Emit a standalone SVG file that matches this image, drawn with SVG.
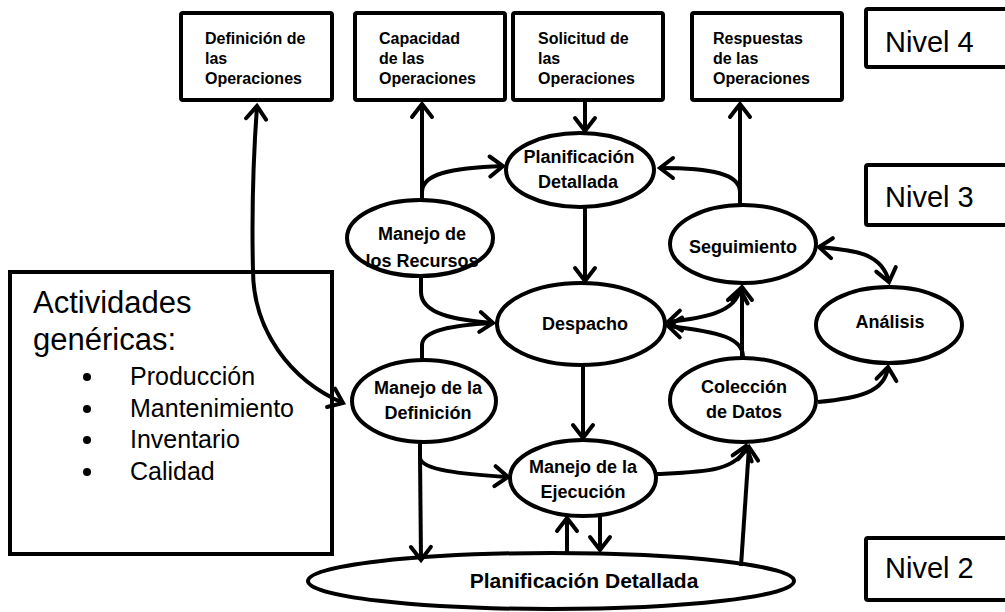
<svg xmlns="http://www.w3.org/2000/svg" width="1005" height="612" viewBox="0 0 1005 612">
  <defs>
    <marker id="arrow" viewBox="-16 -13 20 26" refX="0" refY="0" markerWidth="20" markerHeight="26" markerUnits="userSpaceOnUse" orient="auto-start-reverse">
      <path d="M -13,-10 L 0,0 L -13,10" fill="none" stroke="#000" stroke-width="4" stroke-linecap="round" stroke-linejoin="miter"/>
    </marker>
    <style>
      .box { fill: #fff; stroke: #000; stroke-width: 4; }
      .lvl { fill: #fff; stroke: #000; stroke-width: 4; }
      .node { fill: #fff; stroke: #000; stroke-width: 4; }
      .wire { fill: none; stroke: #000; stroke-width: 4; stroke-linecap: butt; }
      .head { marker-end: url(#arrow); }
      .both { marker-start: url(#arrow); marker-end: url(#arrow); }
      .t4 { font-family: "Liberation Sans", Arial, sans-serif; font-weight: bold; font-size: 16px; fill: #000; }
      .t3 { font-family: "Liberation Sans", Arial, sans-serif; font-weight: bold; font-size: 18px; fill: #000; text-anchor: middle; }
      .big { font-family: "Liberation Sans", Arial, sans-serif; font-weight: bold; font-size: 21px; fill: #000; text-anchor: middle; }
      .niv { font-family: "Liberation Sans", Arial, sans-serif; font-size: 29px; fill: #000; }
      .act { font-family: "Liberation Sans", Arial, sans-serif; font-size: 31px; fill: #000; }
      .li { font-family: "Liberation Sans", Arial, sans-serif; font-size: 25px; fill: #000; }
    </style>
  </defs>

  <!-- Level 4 boxes -->
  <g id="def-operaciones">
    <rect class="box" x="181" y="13" width="151" height="87" rx="2"/>
    <text class="t4" x="205" y="44">Definición de</text>
    <text class="t4" x="205" y="64">las</text>
    <text class="t4" x="205" y="84">Operaciones</text>
  </g>
  <g id="cap-operaciones">
    <rect class="box" x="355" y="13" width="150" height="87" rx="2"/>
    <text class="t4" x="379" y="44">Capacidad</text>
    <text class="t4" x="379" y="64">de las</text>
    <text class="t4" x="379" y="84">Operaciones</text>
  </g>
  <g id="sol-operaciones">
    <rect class="box" x="513" y="13" width="150" height="87" rx="2"/>
    <text class="t4" x="538" y="44">Solicitud de</text>
    <text class="t4" x="538" y="64">las</text>
    <text class="t4" x="538" y="84">Operaciones</text>
  </g>
  <g id="resp-operaciones">
    <rect class="box" x="692" y="13" width="150" height="87" rx="2"/>
    <text class="t4" x="713" y="44">Respuestas</text>
    <text class="t4" x="713" y="64">de las</text>
    <text class="t4" x="713" y="84">Operaciones</text>
  </g>

  <!-- Level labels -->
  <g id="nivel4">
    <rect class="lvl" x="866" y="9" width="150" height="58" rx="2"/>
    <text class="niv" x="885" y="52">Nivel 4</text>
  </g>
  <g id="nivel3">
    <rect class="lvl" x="866" y="165" width="150" height="60" rx="2"/>
    <text class="niv" x="885" y="207">Nivel 3</text>
  </g>
  <g id="nivel2">
    <rect class="lvl" x="866" y="538" width="150" height="62" rx="2"/>
    <text class="niv" x="885" y="578">Nivel 2</text>
  </g>

  <!-- Generic activities panel -->
  <g id="actividades">
    <rect x="10" y="272" width="322" height="282" fill="#fff" stroke="#000" stroke-width="4"/>
    <text class="act" x="33" y="313">Actividades</text>
    <text class="act" x="33" y="350">genéricas:</text>
    <circle cx="87" cy="377" r="4"/>
    <text class="li" x="130" y="385">Producción</text>
    <circle cx="87" cy="409" r="4"/>
    <text class="li" x="130" y="417">Mantenimiento</text>
    <circle cx="87" cy="440" r="4"/>
    <text class="li" x="130" y="448">Inventario</text>
    <circle cx="87" cy="472" r="4"/>
    <text class="li" x="130" y="480">Calidad</text>
  </g>

  <!-- Level 3 activities -->
  <g id="planificacion">
    <ellipse class="node" cx="580" cy="170" rx="74" ry="37"/>
    <text class="t3" x="579" y="163">Planificación</text>
    <text class="t3" x="578" y="188">Detallada</text>
  </g>
  <g id="recursos">
    <ellipse class="node" cx="420" cy="238" rx="73" ry="38"/>
    <text class="t3" x="422" y="240">Manejo de</text>
    <text class="t3" x="422" y="267">los Recursos</text>
  </g>
  <g id="despacho">
    <ellipse class="node" cx="581" cy="324" rx="84" ry="41"/>
    <text class="t3" x="585" y="330">Despacho</text>
  </g>
  <g id="definicion">
    <ellipse class="node" cx="424" cy="401" rx="72" ry="41"/>
    <text class="t3" x="428" y="394">Manejo de la</text>
    <text class="t3" x="428" y="419">Definición</text>
  </g>
  <g id="ejecucion">
    <ellipse class="node" cx="583" cy="478" rx="73" ry="38"/>
    <text class="t3" x="583" y="473">Manejo de la</text>
    <text class="t3" x="583" y="498">Ejecución</text>
  </g>
  <g id="seguimiento">
    <ellipse class="node" cx="743" cy="244" rx="73" ry="39"/>
    <text class="t3" x="743" y="253">Seguimiento</text>
  </g>
  <g id="analisis">
    <ellipse class="node" cx="889" cy="325" rx="73" ry="38"/>
    <text class="t3" x="890" y="328">Análisis</text>
  </g>
  <g id="coleccion">
    <ellipse class="node" cx="743" cy="400" rx="73" ry="42"/>
    <text class="t3" x="744" y="393">Colección</text>
    <text class="t3" x="744" y="418">de Datos</text>
  </g>

  <!-- Level 2 -->
  <g id="planificacion-nivel2">
    <ellipse class="node" cx="551" cy="581" rx="243" ry="28"/>
    <text class="big" x="584" y="588">Planificación Detallada</text>
  </g>

  <!-- Connectors -->
  <g id="connectors">
    <path class="wire both" d="M 257,106 Q 251,190 253,270 C 253,330 290,380 343,403"/>
    <path class="wire head" d="M 422,200 L 422,104"/>
    <path class="wire head" d="M 422,192 C 422,174 450,168 503,166"/>
    <path class="wire head" d="M 585,100 L 585,131"/>
    <path class="wire head" d="M 585,207 L 585,281"/>
    <path class="wire head" d="M 421,275 L 421,292 C 421,314 455,320 493,323"/>
    <path class="wire" d="M 422,360 L 422,345 C 422,330 455,325 493,323"/>
    <path class="wire head" d="M 583,365 L 583,438"/>
    <path class="wire head" d="M 420,443 L 420,458 C 422,470 460,474 508,477"/>
    <path class="wire head" d="M 420,455 L 421,560"/>
    <path class="wire head" d="M 567,553 L 567,518"/>
    <path class="wire head" d="M 600,516 L 600,550"/>
    <path class="wire head" d="M 657,474 C 700,472 738,472 746,446"/>
    <path class="wire head" d="M 741,566 L 749,447"/>
    <path class="wire head" d="M 742,358 L 742,287"/>
    <path class="wire head" d="M 743,358 C 744,338 720,332 668,326"/>
    <path class="wire both" d="M 668,322 C 705,318 736,312 740,289"/>
    <path class="wire head" d="M 740,205 L 740,104"/>
    <path class="wire head" d="M 740,192 C 740,174 712,168 660,168"/>
    <path class="wire both" d="M 819,247 C 852,250 882,252 889,282"/>
    <path class="wire head" d="M 818,402 C 860,398 885,392 888,367"/>
  </g>
</svg>
